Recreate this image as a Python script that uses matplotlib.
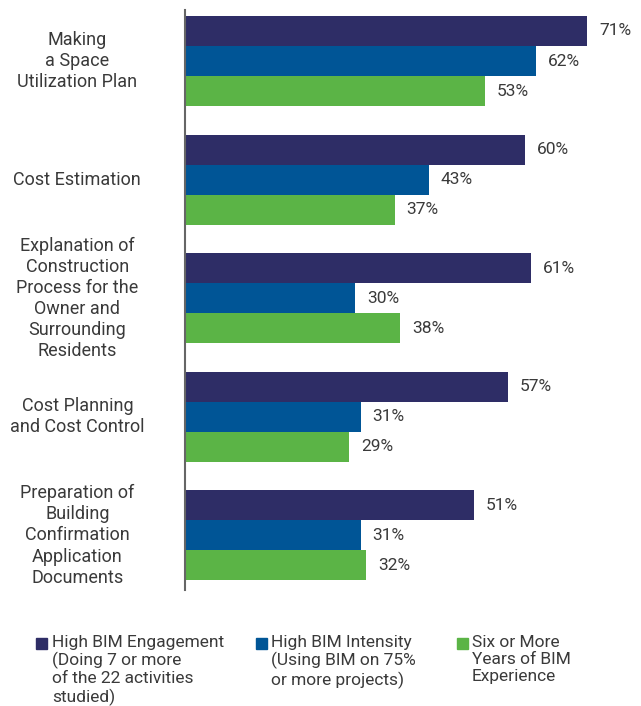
import matplotlib.pyplot as plt
from matplotlib.patches import Rectangle

plt.rcParams['font.family'] = ['Roboto', 'DejaVu Sans']

# data
categories = [
    "Making\na Space\nUtilization Plan",
    "Cost Estimation",
    "Explanation of\nConstruction\nProcess for the\nOwner and\nSurrounding\nResidents",
    "Cost Planning\nand Cost Control",
    "Preparation of\nBuilding\nConfirmation\nApplication\nDocuments",
]
engagement = [71, 60, 61, 57, 51]
intensity = [62, 43, 30, 31, 31]
experience = [53, 37, 38, 29, 32]

series = [engagement, intensity, experience]
colors = ['#2e2d66', '#005596', '#5bb446']
legend_labels = [
    "High BIM Engagement\n(Doing 7 or more\nof the 22 activities\nstudied)",
    "High BIM Intensity\n(Using BIM on 75%\nor more projects)",
    "Six or More\nYears of BIM\nExperience",
]
text_color = '#3a3a3a'

W, H = 641, 706
fig = plt.figure(figsize=(W / 100, H / 100), dpi=100)
ax = fig.add_axes([185 / W, 1 - 590 / H, (W - 185) / W, 580 / H])

bar_h = 0.253
for j, vals in enumerate(series):
    for i, v in enumerate(vals):
        y = i + (j - 1) * bar_h
        ax.barh(y, v, height=bar_h, color=colors[j], linewidth=0)
        ax.text(v + 2.1, y, f"{v}%", va='center', ha='left',
                fontsize=12.5, color=text_color)

ax.set_xlim(0, 80.5)
ax.set_ylim(4.46, -0.43)
ax.set_xticks([])
ax.set_yticks([])
for s in ['top', 'right', 'bottom']:
    ax.spines[s].set_visible(False)
ax.spines['left'].set_color('#666666')
ax.spines['left'].set_linewidth(1.5)

# category labels
for i, c in enumerate(categories):
    ax.text(-19.0, i, c, ha='center', va='center', fontsize=13,
            color=text_color, linespacing=1.22)

# legend, drawn by hand
sq_x = [36, 256, 457]
txt_x = [52, 271, 472]
for k in range(3):
    fig.patches.append(Rectangle((sq_x[k] / W, 1 - 649 / H), 11 / W, 11 / H,
                                 transform=fig.transFigure, color=colors[k]))
    fig.text(txt_x[k] / W, 1 - 635 / H, legend_labels[k], ha='left', va='top',
             fontsize=12.5, color=text_color, linespacing=1.16)

plt.savefig("out.png", dpi=100)
